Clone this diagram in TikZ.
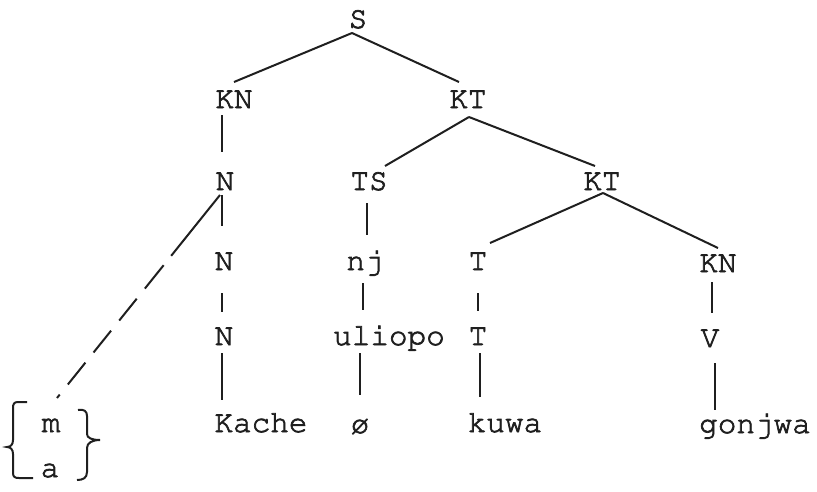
\documentclass[tikz,border=0pt]{standalone}
\usepackage[T1]{fontenc}
\usepackage{courier}
\newcommand{\thicktext}[1]{\special{pdf:literal direct 2 Tr 0.7 w}#1\special{pdf:literal direct 0 Tr}}
\begin{document}
\begin{tikzpicture}[x=1pt,y=-1pt,
  lbl/.style={font=\ttfamily\fontsize{31}{31}\selectfont, inner sep=0pt, anchor=base, text=black!88},
  edge/.style={draw=black!88, line width=2pt},
  dashedge/.style={edge, dash pattern=on 78pt off 12pt on 30pt off 13pt on 28pt off 13pt on 28pt off 13pt on 28pt off 13pt}]
\useasboundingbox (0,0) rectangle (817,491);
% level 0
\node[lbl] (S) at (358,28) {\thicktext{S}};
% level 1
\node[lbl] (KNa) at (234,108) {\thicktext{KN}};
\node[lbl] (KTa) at (468,108) {\thicktext{KT}};
% level 2
\node[lbl] (Na) at (225,190) {\thicktext{N}};
\node[lbl] (TS) at (369,190) {\thicktext{TS}};
\node[lbl] (KTb) at (602,190) {\thicktext{KT}};
% level 3
\node[lbl] (Nb) at (224,270) {\thicktext{N}};
\node[lbl] (nj) at (365,270) {\thicktext{nj}};
\node[lbl] (Ta) at (478,270) {\thicktext{T}};
\node[lbl] (KNb) at (718,272) {\thicktext{KN}};
% level 4
\node[lbl] (Nc) at (224,345) {\thicktext{N}};
\node[lbl] (uliopo) at (389,345) {\thicktext{uliopo}};
\node[lbl] (Tb) at (478,345) {\thicktext{T}};
\node[lbl] (V) at (710,347) {\thicktext{V}};
% level 5
\node[lbl] (Kache) at (261,432) {\thicktext{Kache}};
\node[lbl] (empty) at (360,433) {\thicktext{\o}};
\node[lbl] (kuwa) at (505,432) {\thicktext{kuwa}};
\node[lbl] (gonjwa) at (755,433) {\thicktext{gonjwa}};
\node[lbl] (m) at (51,432) {\thicktext{m}};
\node[lbl] (a) at (50,477) {\thicktext{a}};
% braces
\draw[edge] (27,402) -- (18,402) .. controls (14,402) and (13,404) .. (13,408) -- (13,440) .. controls (13,444) and (11,447) .. (7,447) .. controls (11,447) and (13,450) .. (13,454) -- (13,473) .. controls (13,477) and (15,478) .. (19,478) -- (33,478);
\draw[edge] (78,410) .. controls (84,409) and (87,411) .. (87,416) -- (87,434) .. controls (87,438) and (92,440) .. (100,440) .. controls (92,440) and (87,443) .. (87,448) -- (87,472) .. controls (87,478) and (83,480) .. (77,480);
% connectors
\draw[edge] ([xshift=-6pt,yshift=-5pt]S.base) -- ([yshift=26pt]KNa.base);
\draw[edge] ([xshift=-6pt,yshift=-5pt]S.base) -- ([xshift=-9pt,yshift=26pt]KTa.base);
\draw[edge] ([xshift=-12pt,yshift=-7pt]KNa.base) -- ([xshift=-3pt,yshift=38pt]Na.base);
\draw[edge] ([xshift=1pt,yshift=-9pt]KTa.base) -- ([xshift=16pt,yshift=24pt]TS.base);
\draw[edge] ([xshift=1pt,yshift=-9pt]KTa.base) -- ([xshift=-7pt,yshift=24pt]KTb.base);
\draw[edge] ([xshift=-3pt,yshift=-5pt]Na.base) -- ([xshift=-2pt,yshift=44pt]Nb.base);
\draw[dashedge] ([xshift=-5pt,yshift=-5pt]Na.base) -- ([xshift=6pt,yshift=34pt]m.base);
\draw[edge] ([xshift=-2pt,yshift=-13pt]TS.base) -- ([xshift=2pt,yshift=35pt]nj.base);
\draw[edge] ([xshift=1pt,yshift=-3pt]KTb.base) -- ([xshift=12pt,yshift=27pt]Ta.base);
\draw[edge] ([xshift=1pt,yshift=-3pt]KTb.base) -- ([yshift=24pt]KNb.base);
\draw[edge] ([xshift=-2pt,yshift=-23pt]Nb.base) -- ([xshift=-2pt,yshift=33pt]Nc.base);
\draw[edge] ([xshift=-2pt,yshift=-13pt]nj.base) -- ([xshift=-26pt,yshift=35pt]uliopo.base);
\draw[edge] ([yshift=-23pt]Ta.base) -- ([yshift=34pt]Tb.base);
\draw[edge] ([xshift=-6pt,yshift=-10pt]KNb.base) -- ([xshift=2pt,yshift=34pt]V.base);
\draw[edge] ([xshift=-2pt,yshift=-8pt]Nc.base) -- ([xshift=-39pt,yshift=32pt]Kache.base);
\draw[edge] ([xshift=-29pt,yshift=-8pt]uliopo.base) -- ([yshift=38pt]empty.base);
\draw[edge] ([xshift=2pt,yshift=-8pt]Tb.base) -- ([xshift=-25pt,yshift=35pt]kuwa.base);
\draw[edge] ([xshift=5pt,yshift=-16pt]V.base) -- ([xshift=-40pt,yshift=23pt]gonjwa.base);
\end{tikzpicture}
\end{document}
